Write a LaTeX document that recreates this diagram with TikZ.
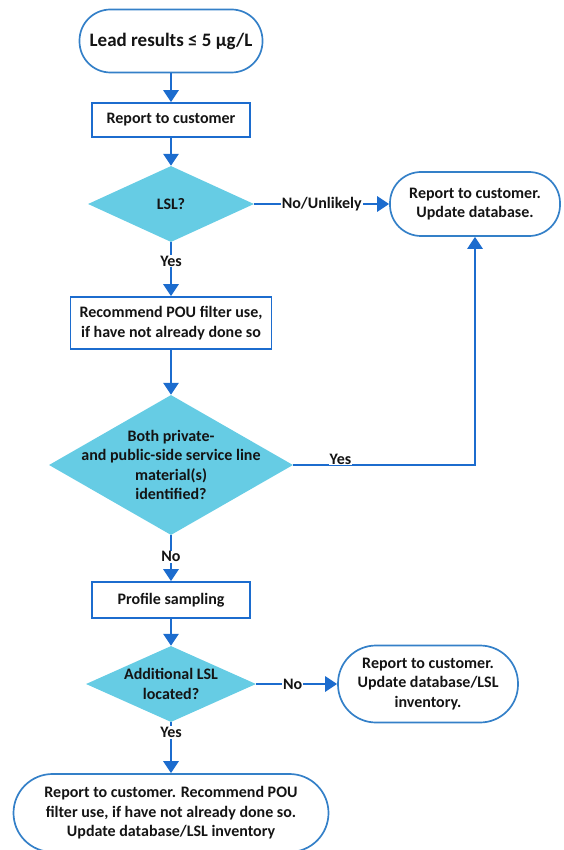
\documentclass[tikz,border=0pt]{standalone}
\usepackage{fontspec}
\setmainfont{Carlito}
\usetikzlibrary{shapes.geometric,arrows.meta}

\definecolor{flowblue}{RGB}{28,108,206}
\definecolor{termblue}{RGB}{52,128,200}
\definecolor{decfill}{RGB}{102,204,228}
\definecolor{ink}{RGB}{20,20,20}

\begin{document}
\begin{tikzpicture}[x = 1pt, y = -1pt,
    every node/.style = {font = \fontsize{16}{19.5}\selectfont\bfseries, align = center, text = ink},
    terminal/.style = {draw = termblue, line width = 1.7pt, rounded corners = 31pt, inner sep = 0pt},
    process/.style = {draw = flowblue, line width = 1.7pt, inner sep = 0pt},
    decision/.style = {shape = diamond, fill = decfill, inner sep = 0pt},
    flow/.style = {draw = flowblue, line width = 2.8pt, -{Triangle[width = 15pt, length = 12pt]}},
    answer/.style = {fill = white, inner sep = 1pt}]
    \useasboundingbox (0,0) rectangle (563,850);

    \node[terminal, minimum width = 183pt, minimum height = 63pt,
        font = \fontsize{19}{22}\selectfont\bfseries] (start) at (171,41) {Lead results ≤ 5 µg/L};
    \node[process, minimum width = 158pt, minimum height = 34pt] (report) at (171,120) {Report to customer};
    \node[decision, minimum width = 166pt, minimum height = 76pt,
        label = center:LSL?] (lsl) at (171,204) {};
    \node[terminal, minimum width = 170pt, minimum height = 64pt] (update) at (475,204)
        {Report to customer.\\Update database.};
    \node[process, minimum width = 201pt, minimum height = 52pt] (pou) at (171,323)
        {Recommend POU filter use,\\if have not already done so};
    \node[decision, minimum width = 244pt, minimum height = 140pt,
        label = {center:{Both private-\\and public-side service line\\material(s)\\identified?}}] (both) at (171,465) {};
    \node[process, minimum width = 158pt, minimum height = 36pt] (profile) at (171,600) {Profile sampling};
    \node[decision, minimum width = 170pt, minimum height = 76pt,
        label = {center:{Additional LSL\\located?}}] (more) at (171,684) {};
    \node[terminal, minimum width = 180pt, minimum height = 77pt, rounded corners = 38pt] (inventory) at (428,684)
        {Report to customer.\\Update database/LSL\\inventory.};
    \node[terminal, minimum width = 315pt, minimum height = 78pt, rounded corners = 39pt] (final) at (171,813)
        {Report to customer. Recommend POU\\filter use, if have not already done so.\\Update database/LSL inventory};

    % connectors
    \draw[flow] (start) -- (report);
    \draw[flow] (report) -- (lsl);
    \draw[flow] (lsl) -- node[answer] {No/Unlikely} (update);
    \draw[flow] (lsl) -- node[answer, pos = 0.35] {Yes} (pou);
    \draw[flow] (pou) -- (both);
    \draw[flow] (both) -| node[answer, pos = 0.13, yshift = 6pt] {Yes} (update);
    \draw[flow] (both) -- node[answer, pos = 0.47] {No} (profile);
    \draw[flow] (profile) -- (more);
    \draw[flow] (more) -- node[answer, pos = 0.45] {No} (inventory);
    \draw[flow] (more) -- node[answer, pos = 0.2] {Yes} (final);
\end{tikzpicture}
\end{document}
